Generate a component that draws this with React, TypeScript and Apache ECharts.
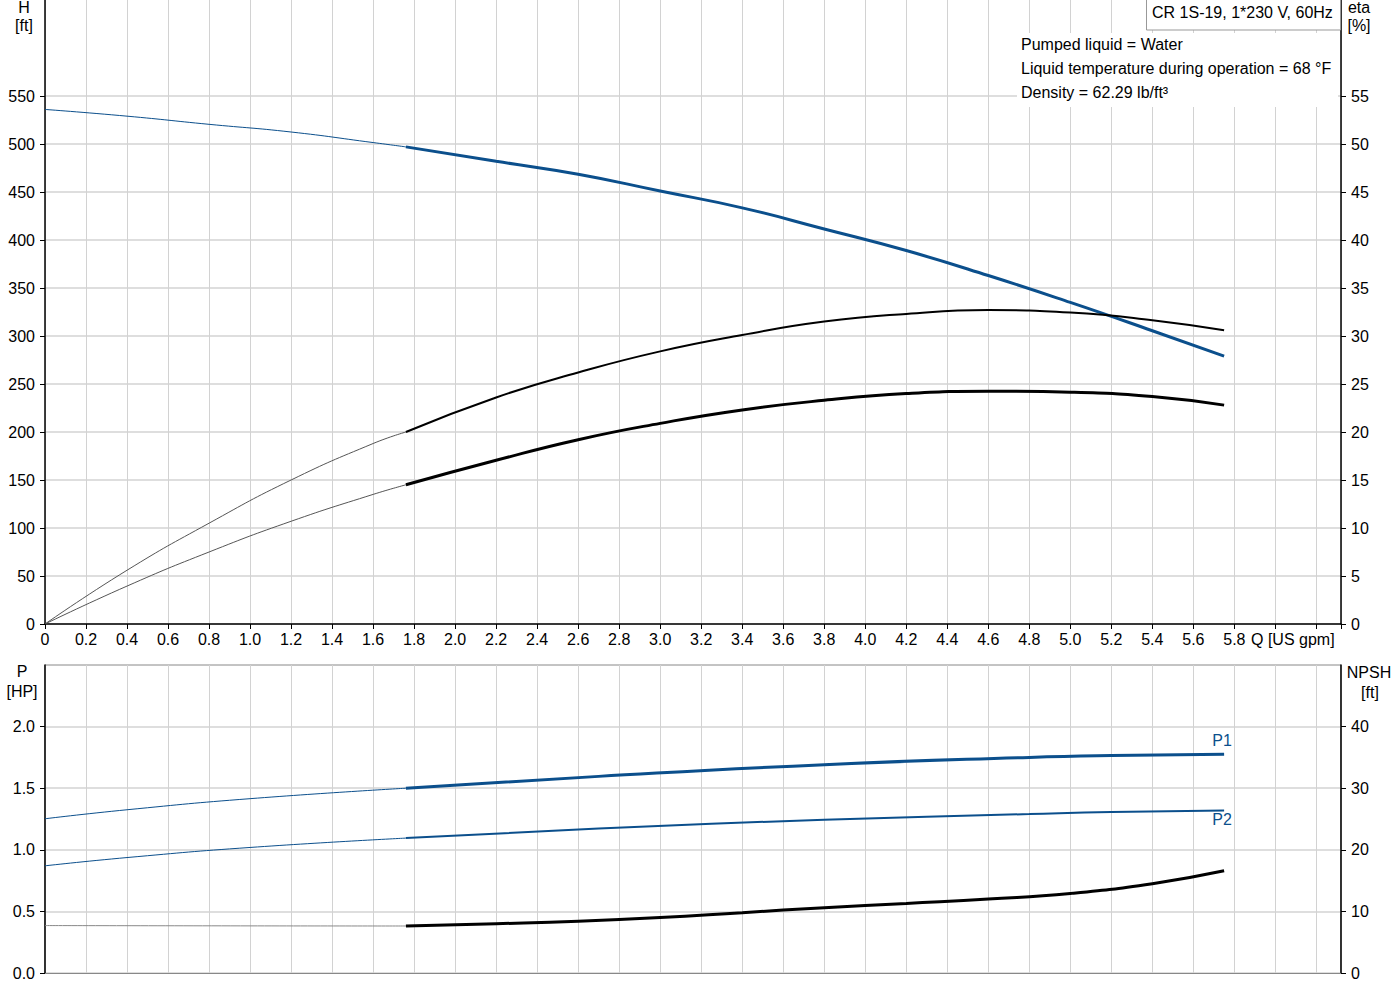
import React, { useEffect, useRef } from 'react';
import * as echarts from 'echarts';

// flow axis labels (US gpm)
const qTickLabels = ['0', '0.2', '0.4', '0.6', '0.8', '1.0', '1.2', '1.4', '1.6', '1.8', '2.0', '2.2', '2.4', '2.6', '2.8',
  '3.0', '3.2', '3.4', '3.6', '3.8', '4.0', '4.2', '4.4', '4.6', '4.8', '5.0', '5.2', '5.4', '5.6', '5.8'];
const hTicks = [0, 50, 100, 150, 200, 250, 300, 350, 400, 450, 500, 550];
const etaTicks = [0, 5, 10, 15, 20, 25, 30, 35, 40, 45, 50, 55];
const pTicks = [0, 0.5, 1.0, 1.5, 2.0];
const npshTicks = [0, 10, 20, 30, 40];

// top chart: thin part (outside range) and thick part (operating range)
const qThin = [0, 0.4, 0.8, 1.2, 1.6, 1.76];
const qThick = [1.76, 2.2, 2.6, 3.0, 3.4, 3.8, 4.2, 4.6, 5.0, 5.4, 5.75];
const headThin = [536, 529, 520.5, 512.5, 501.5, 497];
const headThick = [497, 482, 468.5, 451, 433.5, 411.5, 389, 363, 335, 305.5, 279];
const etaPumpThin = [0, 5.6, 10.5, 15.0, 18.8, 20.0];
const etaPumpThick = [20.0, 23.6, 26.2, 28.4, 30.1, 31.5, 32.3, 32.7, 32.45, 31.65, 30.6];
const etaTotalThin = [0, 3.95, 7.5, 10.7, 13.5, 14.5];
const etaTotalThick = [14.5, 17.05, 19.2, 20.9, 22.3, 23.3, 24.0, 24.25, 24.15, 23.7, 22.8];

// bottom chart
const qPowThin = [0, 0.4, 1.0, 1.76];
const qPowThick = [1.76, 2.7, 3.8, 4.8, 5.2, 5.75];
const p1Thin = [1.252, 1.325, 1.415, 1.5];
const p1Thick = [1.5, 1.596, 1.691, 1.75, 1.765, 1.775];
const p2Thin = [0.87, 0.937, 1.019, 1.095];
const p2Thick = [1.095, 1.173, 1.244, 1.29, 1.307, 1.32];
const qNpshThin = [0, 1.0, 1.76];
const qNpshThick = [1.76, 2.2, 2.6, 3.0, 3.4, 3.8, 4.2, 4.6, 5.0, 5.4, 5.75];
const npshThin = [7.7, 7.65, 7.63];
const npshThick = [7.63, 8.0, 8.4, 9.0, 9.8, 10.6, 11.3, 12.0, 12.9, 14.5, 16.6];

const FONT = 'Liberation Sans, Arial, sans-serif';
const BLUE = '#0b4f8c';

const zip = (xs: number[], ys: number[]) => xs.map((x, i) => [x, ys[i]]);

const App: React.FC = () => {
  const chartRef = useRef<HTMLDivElement>(null);

  useEffect(() => {
    if (!chartRef.current) return;
    const chart = echarts.init(chartRef.current, null, { renderer: 'svg' });

    const vGrid = { show: true, lineStyle: { color: '#d2d2d2', width: 1 } };
    const hGrid = { show: true, lineStyle: { color: '#dedede', width: 2 } };
    const label = { fontFamily: FONT, fontSize: 16, color: '#000' };

    const xBase = (gridIndex: number) => ({
      type: 'value',
      gridIndex,
      min: 0,
      max: 6.32,
      interval: 0.2,
      splitLine: vGrid,
    });

    const line = (name: string, data: number[][], color: string, width: number, xi: number, yi: number) => ({
      name,
      type: 'line',
      data,
      xAxisIndex: xi,
      yAxisIndex: yi,
      smooth: 0.5,
      showSymbol: false,
      silent: true,
      lineStyle: { color, width },
      z: 5,
    });

    const txt = (text: string, x: number, y: number, fill = '#000', align = 'center') => ({
      type: 'text',
      x,
      y,
      z: 100,
      style: { text, fill, font: `16px ${FONT}`, align, verticalAlign: 'middle' },
    });

    const option = {
      animation: false,
      grid: [
        { left: 45, top: 0, width: 1296, height: 624 },
        { left: 45, top: 665, width: 1296, height: 308, show: true, borderColor: '#888', borderWidth: 1 },
      ],
      xAxis: [
        {
          ...xBase(0),
          axisLine: { show: true, lineStyle: { color: '#000', width: 1.5 } },
          axisTick: { show: true, length: 5, lineStyle: { color: '#000' } },
          axisLabel: {
            ...label,
            margin: 7,
            customValues: qTickLabels.map(Number),
            formatter: (v: number) => (v === 0 ? '0' : v.toFixed(1)),
          },
        },
        {
          ...xBase(1),
          axisLine: { show: true, lineStyle: { color: '#888', width: 1 } },
          axisTick: { show: false },
          axisLabel: { show: false },
        },
      ],
      yAxis: [
        {
          type: 'value',
          gridIndex: 0,
          min: 0,
          max: 650,
          interval: 50,
          position: 'left',
          axisLine: { show: true, lineStyle: { color: '#000', width: 1.5 } },
          axisTick: { show: true, length: 5, customValues: hTicks, lineStyle: { color: '#000' } },
          axisLabel: { ...label, margin: 10, customValues: hTicks },
          splitLine: hGrid,
        },
        {
          type: 'value',
          gridIndex: 0,
          min: 0,
          max: 65,
          interval: 5,
          position: 'right',
          axisLine: { show: true, lineStyle: { color: '#000', width: 1.5 } },
          axisTick: { show: true, length: 5, customValues: etaTicks, lineStyle: { color: '#000' } },
          axisLabel: { ...label, margin: 10, customValues: etaTicks },
          splitLine: { show: false },
        },
        {
          type: 'value',
          gridIndex: 1,
          min: 0,
          max: 2.5,
          interval: 0.5,
          position: 'left',
          axisLine: { show: true, lineStyle: { color: '#000', width: 1.5 } },
          axisTick: { show: true, length: 5, customValues: pTicks, lineStyle: { color: '#000' } },
          axisLabel: { ...label, margin: 10, customValues: pTicks, formatter: (v: number) => v.toFixed(1) },
          splitLine: hGrid,
        },
        {
          type: 'value',
          gridIndex: 1,
          min: 0,
          max: 50,
          interval: 10,
          position: 'right',
          axisLine: { show: true, lineStyle: { color: '#000', width: 1.5 } },
          axisTick: { show: true, length: 5, customValues: npshTicks, lineStyle: { color: '#000' } },
          axisLabel: { ...label, margin: 10, customValues: npshTicks },
          splitLine: { show: false },
        },
      ],
      series: [
        line('H thin', zip(qThin, headThin), BLUE, 1, 0, 0),
        line('H', zip(qThick, headThick), BLUE, 3, 0, 0),
        line('eta pump thin', zip(qThin, etaPumpThin), '#555', 1, 0, 1),
        line('eta pump', zip(qThick, etaPumpThick), '#000', 2, 0, 1),
        line('eta total thin', zip(qThin, etaTotalThin), '#555', 1, 0, 1),
        line('eta total', zip(qThick, etaTotalThick), '#000', 3, 0, 1),
        line('P1 thin', zip(qPowThin, p1Thin), BLUE, 1, 1, 2),
        line('P1', zip(qPowThick, p1Thick), BLUE, 3, 1, 2),
        line('P2 thin', zip(qPowThin, p2Thin), BLUE, 1, 1, 2),
        line('P2', zip(qPowThick, p2Thick), BLUE, 2, 1, 2),
        line('NPSH thin', zip(qNpshThin, npshThin), '#888', 1, 1, 3),
        line('NPSH', zip(qNpshThick, npshThick), '#000', 3, 1, 3),
      ],
      graphic: [
        txt('H', 24, 7),
        txt('[ft]', 24, 25),
        txt('eta', 1359, 7),
        txt('[%]', 1359, 25),
        txt('P', 22, 671),
        txt('[HP]', 22, 691),
        txt('NPSH', 1369, 672),
        txt('[ft]', 1370, 692),
        txt('Q [US gpm]', 1251, 639, '#000', 'left'),
        {
          type: 'rect',
          z: 90,
          shape: { x: 1146.5, y: -1, width: 194, height: 31 },
          style: { fill: '#fff', stroke: '#999', lineWidth: 1 },
        },
        txt('CR 1S-19, 1*230 V, 60Hz', 1152, 12, '#000', 'left'),
        {
          type: 'rect',
          z: 90,
          shape: { x: 1017, y: 33, width: 321, height: 74 },
          style: { fill: '#fff' },
        },
        txt('Pumped liquid = Water', 1021, 44, '#000', 'left'),
        txt('Liquid temperature during operation = 68 °F', 1021, 68, '#000', 'left'),
        txt('Density = 62.29 lb/ft³', 1021, 92, '#000', 'left'),
        txt('P1', 1222, 740, BLUE),
        txt('P2', 1222, 819, BLUE),
      ],
    };

    chart.setOption(option as any);

    return () => {
      chart.dispose();
    };
  }, []);

  return (
    <div
      ref={chartRef}
      style={{ position: 'fixed', left: 0, top: 0, width: 1400, height: 1000, background: '#fff' }}
    />
  );
};

export default App;
